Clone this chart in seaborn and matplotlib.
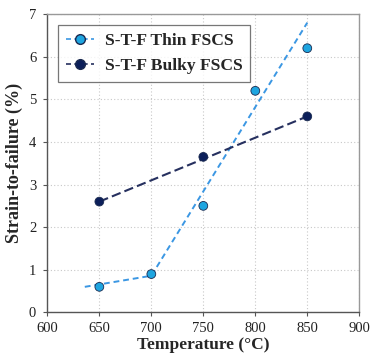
import pandas as pd
import seaborn as sns
import matplotlib.pyplot as plt

# measured points
temps_thin = [650, 700, 750, 800, 850]
strain_thin = [0.6, 0.9, 2.5, 5.2, 6.2]
temps_bulky = [650, 750, 850]
strain_bulky = [2.6, 3.65, 4.6]

# dashed trend lines as drawn in the figure
trend_thin_x = [636, 700, 850]
trend_thin_y = [0.6, 0.86, 6.8]
trend_bulky_x = [650, 850]
trend_bulky_y = [2.6, 4.6]

labels = ['S-T-F Thin FSCS', 'S-T-F Bulky FSCS']
thin_color = '#1ea5e0'
thin_line = '#3b97e3'
bulky_color = '#0c1f5a'
bulky_line = '#26305f'


def plot_strain(output_file: str = 'out.png') -> None:
    sns.set_style('white')
    plt.rcParams['font.family'] = ['Liberation Serif', 'DejaVu Serif']

    fig = plt.figure(figsize=(3.7, 3.62), dpi=100)
    ax = fig.add_axes([0.128, 0.137, 0.843, 0.824])

    pts = pd.DataFrame({
        'temp': temps_thin + temps_bulky,
        'strain': strain_thin + strain_bulky,
        'series': [labels[0]] * len(temps_thin) + [labels[1]] * len(temps_bulky),
    })

    sns.lineplot(x=trend_thin_x, y=trend_thin_y, ax=ax, color=thin_line,
                 linestyle=(0, (3, 2)), linewidth=1.4)
    sns.lineplot(x=trend_bulky_x, y=trend_bulky_y, ax=ax, color=bulky_line,
                 linestyle=(0, (4.5, 2)), linewidth=1.5)
    sns.scatterplot(data=pts, x='temp', y='strain', hue='series',
                    palette={labels[0]: thin_color, labels[1]: bulky_color},
                    s=40, edgecolor='#1a2a50', linewidth=0.6, ax=ax,
                    legend=False, zorder=5)

    ax.set_xlim(600, 900)
    ax.set_ylim(0, 7)
    ax.set_xticks(range(600, 901, 50))
    ax.set_yticks(range(0, 8))
    ax.grid(True, color='#c8c8c8', linestyle=(0, (1, 2)), linewidth=0.8)
    ax.tick_params(axis='both', direction='out', length=3, width=0.8,
                   color='#555555', labelsize=10.5, labelcolor='#222222')
    ax.tick_params(axis='x', pad=4)
    ax.tick_params(axis='y', pad=5)
    ax.tick_params(bottom=True, left=True)
    for side in ['left', 'bottom']:
        ax.spines[side].set_color('#555555')
        ax.spines[side].set_linewidth(1.0)
    for side in ['top', 'right']:
        ax.spines[side].set_color('#999999')
        ax.spines[side].set_linewidth(1.0)

    ax.set_xlabel('Temperature (°C)', fontsize=12.5, fontweight='bold', labelpad=1)
    ax.set_ylabel('Strain-to-failure (%)', fontsize=13, fontweight='bold', labelpad=4)

    handles = [
        plt.Line2D([], [], color=thin_line, linestyle=(0, (3, 2)), linewidth=1.2,
                   marker='o', markerfacecolor=thin_color, markeredgecolor='#1a2a50',
                   markersize=7),
        plt.Line2D([], [], color=bulky_line, linestyle=(0, (3, 2)), linewidth=1.2,
                   marker='o', markerfacecolor=bulky_color, markeredgecolor='#1a2a50',
                   markersize=7),
    ]
    leg = ax.legend(handles, labels, loc='upper left', bbox_to_anchor=(0.035, 0.965),
                    prop={'weight': 'bold', 'size': 12.6}, frameon=True,
                    fancybox=False, edgecolor='#555555', handlelength=1.6,
                    borderpad=0.45, labelspacing=0.5, handletextpad=0.6,
                    borderaxespad=0)
    leg.get_frame().set_linewidth(0.9)

    plt.savefig(output_file, dpi=100)
    plt.close()


if __name__ == '__main__':
    plot_strain()
